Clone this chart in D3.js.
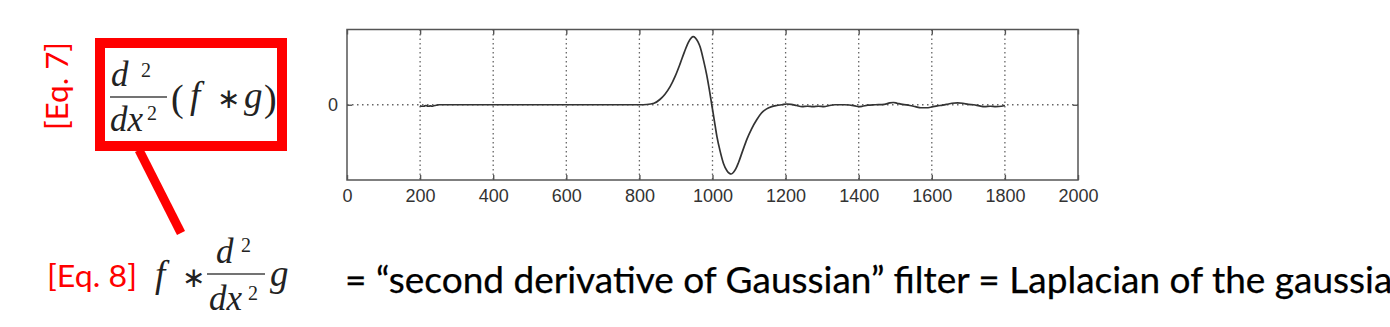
<!DOCTYPE html>
<html>
<head>
<meta charset="utf-8">
<script src="https://cdn.jsdelivr.net/npm/d3@7"></script>
<style>
  body { margin: 0; background: #fff; }
  svg { display: block; }
</style>
</head>
<body>
<svg id="chart" width="1390" height="327"></svg>
<script>
// values
var xTicks = [0, 200, 400, 600, 800, 1000, 1200, 1400, 1600, 1800, 2000]
var gridX = [200, 400, 600, 800, 1000, 1200, 1400, 1600, 1800]
var yTicks = [0]
var curveX = [200, 204, 210, 216, 222, 228, 234, 240, 246, 252, 260, 400, 600, 800,
  820, 840, 856, 870, 884, 898, 911, 923, 934, 942, 947, 953, 960, 966, 975, 984, 991,
  998, 1005, 1012, 1021, 1030, 1040, 1046, 1051, 1057, 1064, 1071, 1082, 1094, 1107,
  1121, 1134, 1148, 1162, 1176, 1190, 1203, 1215, 1230, 1245, 1260, 1275, 1290, 1305,
  1320, 1335, 1360, 1390, 1400, 1410, 1425, 1445, 1470, 1485, 1495, 1505, 1520, 1540,
  1555, 1570, 1585, 1600, 1615, 1630, 1645, 1655, 1670, 1685, 1700, 1715, 1730, 1745,
  1760, 1775, 1790, 1800]
var curveY = [-0.01, -0.02, -0.02, -0.01, -0.02, -0.015, -0.02, -0.01, -0.005, 0, 0, 0, 0, 0,
  0.003, 0.02, 0.07, 0.14, 0.24, 0.38, 0.54, 0.70, 0.83, 0.89, 0.905, 0.89, 0.84, 0.77, 0.60, 0.40, 0.21,
  0, -0.21, -0.42, -0.62, -0.78, -0.88, -0.91, -0.92, -0.90, -0.85, -0.77, -0.62, -0.46, -0.32,
  -0.2, -0.11, -0.055, -0.025, -0.01, 0, 0.01, 0.005, -0.01, -0.025, -0.02, -0.025, -0.02, -0.025,
  -0.01, 0, 0, -0.015, -0.025, -0.02, -0.005, 0, 0.005, 0.025, 0.03, 0.02, 0.005, -0.01,
  -0.025, -0.04, -0.04, -0.03, -0.015, -0.005, 0.01, 0.02, 0.025, 0.02, 0.005, 0, -0.015, -0.025,
  -0.02, -0.025, -0.02, -0.01]

var svg = d3.select('#chart')
var RED = '#ff0000'
var INK = '#222'

svg.append('rect').attr('width', 1390).attr('height', 327).attr('fill', '#fff')

// ---- plot ----
var x = d3.scaleLinear().domain([0, 2000]).range([347, 1078])
var y = d3.scaleLinear().domain([-1, 1]).range([180, 29.5])

var plot = svg.append('g')

plot.selectAll('line.gx')
  .data(gridX)
  .join('line')
  .attr('class', 'gx')
  .attr('x1', d => x(d)).attr('x2', d => x(d))
  .attr('y1', y(1)).attr('y2', y(-1))
  .attr('stroke', '#666')
  .attr('stroke-width', 1.3)
  .attr('stroke-dasharray', '1.5,3')

plot.selectAll('line.gy')
  .data(yTicks)
  .join('line')
  .attr('class', 'gy')
  .attr('x1', x(0)).attr('x2', x(2000))
  .attr('y1', d => y(d)).attr('y2', d => y(d))
  .attr('stroke', '#666')
  .attr('stroke-width', 1.3)
  .attr('stroke-dasharray', '1.5,3.5')

var fmt = d3.format('d')
var axBottom = plot.append('g')
  .attr('transform', 'translate(0,' + y(-1) + ')')
  .call(d3.axisBottom(x).tickValues(xTicks).tickFormat(fmt).tickSizeInner(-5).tickSizeOuter(0).tickPadding(9))
var axTop = plot.append('g')
  .attr('transform', 'translate(0,' + y(1) + ')')
  .call(d3.axisTop(x).tickValues(xTicks).tickSizeInner(-5).tickSizeOuter(0).tickFormat(''))
var axLeft = plot.append('g')
  .attr('transform', 'translate(' + x(0) + ',0)')
  .call(d3.axisLeft(y).tickValues(yTicks).tickFormat(fmt).tickSizeInner(-5).tickSizeOuter(0).tickPadding(9))
var axRight = plot.append('g')
  .attr('transform', 'translate(' + x(2000) + ',0)')
  .call(d3.axisRight(y).tickValues(yTicks).tickSizeInner(-5).tickSizeOuter(0).tickFormat(''))

;[axBottom, axTop, axLeft, axRight].forEach(function (g) {
  g.select('.domain').remove()
  g.selectAll('.tick line').attr('stroke', '#555').attr('stroke-width', 1.4)
  g.selectAll('.tick text')
    .attr('fill', '#333')
    .style('font-family', '"Liberation Sans", Arial, sans-serif')
    .style('font-size', '18px')
})

plot.append('rect')
  .attr('x', x(0)).attr('y', y(1))
  .attr('width', x(2000) - x(0)).attr('height', y(-1) - y(1))
  .attr('fill', 'none')
  .attr('stroke', '#555')
  .attr('stroke-width', 1.5)

var pts = curveX.map(function (d, i) { return [d, curveY[i]] })
plot.append('path')
  .datum(pts)
  .attr('fill', 'none')
  .attr('stroke', '#333')
  .attr('stroke-width', 1.7)
  .attr('d', d3.line().x(d => x(d[0])).y(d => y(d[1])).curve(d3.curveMonotoneX))

// ---- annotations ----
var sans = 'Lato, "Open Sans", sans-serif'
var serif = '"Liberation Serif", "Times New Roman", serif'

svg.append('text')
  .attr('transform', 'translate(68,130) rotate(-90)')
  .attr('fill', RED)
  .style('font-family', sans)
  .style('font-size', '31px')
  .attr('textLength', 88)
  .attr('lengthAdjust', 'spacingAndGlyphs')
  .text('[Eq. 7]')

svg.append('rect')
  .attr('x', 100).attr('y', 43).attr('width', 182).attr('height', 103)
  .attr('fill', 'none').attr('stroke', RED).attr('stroke-width', 10)

svg.append('line')
  .attr('x1', 139).attr('y1', 150).attr('x2', 181).attr('y2', 233)
  .attr('stroke', RED).attr('stroke-width', 9)

function glyph (txt, gx, gy, size, italic) {
  svg.append('text')
    .attr('x', gx).attr('y', gy)
    .attr('fill', INK)
    .style('font-family', serif)
    .style('font-size', size + 'px')
    .style('font-style', italic ? 'italic' : 'normal')
    .text(txt)
}
function bar (x1, x2, yy) {
  svg.append('line')
    .attr('x1', x1).attr('x2', x2).attr('y1', yy).attr('y2', yy)
    .attr('stroke', '#444').attr('stroke-width', 1.6)
}

// Eq. 7 : d^2/dx^2 (f * g)
glyph('d', 111, 86, 35, true)
glyph('2', 141, 77, 20, false)
bar(110, 167, 97)
glyph('dx', 110, 131, 35, true)
glyph('2', 147, 120, 20, false)
glyph('(', 171, 111, 38, false)
glyph('f', 190, 108, 37, true)
glyph('\u2217', 217, 108, 28, false)
glyph('g', 244, 108, 37, true)
glyph(')', 264, 111, 38, false)

// Eq. 8 : f * d^2/dx^2 g
svg.append('text')
  .attr('x', 47).attr('y', 287)
  .attr('fill', RED)
  .style('font-family', sans)
  .style('font-size', '31px')
  .attr('textLength', 90)
  .attr('lengthAdjust', 'spacingAndGlyphs')
  .text('[Eq. 8]')

glyph('f', 155, 287, 37, true)
glyph('\u2217', 182, 287, 28, false)
bar(207, 265, 274)
glyph('d', 216, 263, 35, true)
glyph('2', 241, 252, 20, false)
glyph('dx', 209, 310, 35, true)
glyph('2', 248, 300, 20, false)
glyph('g', 270, 286, 37, true)

svg.append('text')
  .attr('x', 345).attr('y', 293)
  .attr('fill', '#000')
  .attr('stroke', '#000')
  .attr('stroke-width', 0.25)
  .style('font-family', sans)
  .style('font-size', '36px')
  .attr('textLength', 1068)
  .attr('lengthAdjust', 'spacingAndGlyphs')
  .text('= \u201csecond derivative of Gaussian\u201d  filter = Laplacian of the gaussian')
</script>
</body>
</html>
